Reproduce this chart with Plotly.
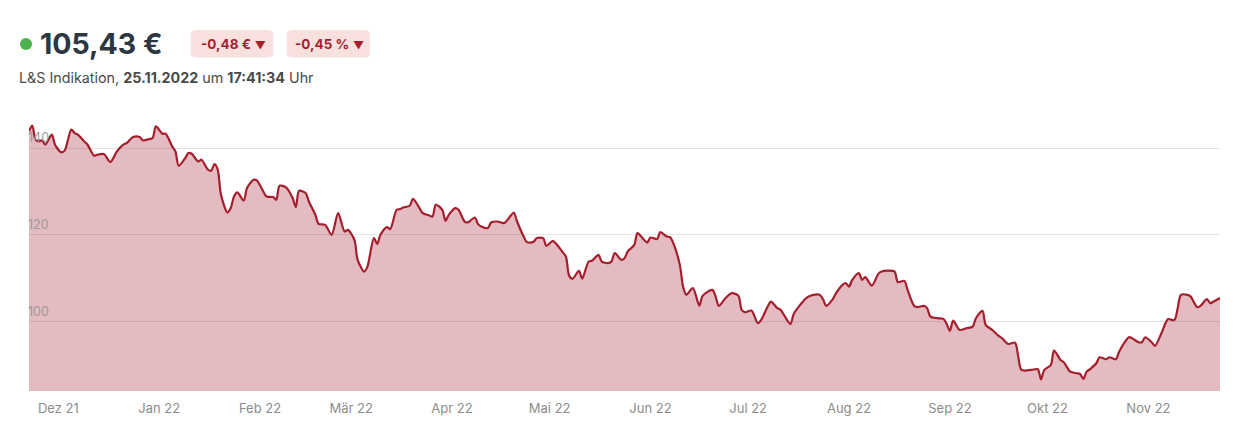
import plotly.graph_objects as go

# ---- data ----
dates = [
    "2021-11-22", "2021-11-23", "2021-11-24", "2021-11-25", "2021-11-26", "2021-11-27", "2021-11-29", "2021-11-30",
    "2021-12-02", "2021-12-03", "2021-12-05", "2021-12-06", "2021-12-07", "2021-12-09", "2021-12-10", "2021-12-12",
    "2021-12-13", "2021-12-15", "2021-12-17", "2021-12-19", "2021-12-21", "2021-12-22", "2021-12-24", "2021-12-26",
    "2021-12-27", "2021-12-29", "2021-12-30", "2021-12-31",
    "2022-01-02", "2022-01-03", "2022-01-05", "2022-01-06", "2022-01-07", "2022-01-09", "2022-01-10", "2022-01-11",
    "2022-01-13", "2022-01-14", "2022-01-16", "2022-01-17", "2022-01-18", "2022-01-19", "2022-01-20", "2022-01-22",
    "2022-01-23", "2022-01-24", "2022-01-25", "2022-01-27", "2022-01-28", "2022-01-30", "2022-01-31",
    "2022-02-02", "2022-02-03", "2022-02-05", "2022-02-06", "2022-02-07", "2022-02-09", "2022-02-11", "2022-02-12",
    "2022-02-13", "2022-02-15", "2022-02-16", "2022-02-18", "2022-02-19", "2022-02-21", "2022-02-23", "2022-02-25",
    "2022-02-27", "2022-02-28",
    "2022-03-02", "2022-03-03", "2022-03-05", "2022-03-06", "2022-03-08", "2022-03-09", "2022-03-10", "2022-03-12",
    "2022-03-13", "2022-03-15", "2022-03-16", "2022-03-17", "2022-03-19", "2022-03-20", "2022-03-22", "2022-03-23",
    "2022-03-25", "2022-03-26", "2022-03-27", "2022-03-29", "2022-03-30", "2022-03-31",
    "2022-04-02", "2022-04-03", "2022-04-05", "2022-04-06", "2022-04-08", "2022-04-09", "2022-04-10", "2022-04-12",
    "2022-04-13", "2022-04-15", "2022-04-17", "2022-04-19", "2022-04-20", "2022-04-21", "2022-04-23", "2022-04-24",
    "2022-04-26", "2022-04-27", "2022-04-29", "2022-04-30",
    "2022-05-02", "2022-05-03", "2022-05-05", "2022-05-06", "2022-05-07", "2022-05-08", "2022-05-10", "2022-05-11",
    "2022-05-13", "2022-05-14", "2022-05-16", "2022-05-17", "2022-05-19", "2022-05-20", "2022-05-21", "2022-05-23",
    "2022-05-24", "2022-05-25", "2022-05-27", "2022-05-28", "2022-05-30", "2022-05-31",
    "2022-06-01", "2022-06-03", "2022-06-04", "2022-06-06", "2022-06-07", "2022-06-08", "2022-06-10", "2022-06-11",
    "2022-06-12", "2022-06-14", "2022-06-16", "2022-06-17", "2022-06-20", "2022-06-21", "2022-06-22", "2022-06-24",
    "2022-06-26", "2022-06-28", "2022-06-29", "2022-06-30",
    "2022-07-02", "2022-07-04", "2022-07-05", "2022-07-07", "2022-07-08", "2022-07-10", "2022-07-11", "2022-07-12",
    "2022-07-14", "2022-07-15", "2022-07-17", "2022-07-19", "2022-07-21", "2022-07-23", "2022-07-24", "2022-07-25",
    "2022-07-27", "2022-07-28", "2022-07-30", "2022-07-31",
    "2022-08-01", "2022-08-02", "2022-08-04", "2022-08-05", "2022-08-06", "2022-08-08", "2022-08-10", "2022-08-11",
    "2022-08-13", "2022-08-15", "2022-08-16", "2022-08-18", "2022-08-19", "2022-08-21", "2022-08-22", "2022-08-24",
    "2022-08-25", "2022-08-26", "2022-08-28", "2022-08-30", "2022-08-31",
    "2022-09-01", "2022-09-02", "2022-09-04", "2022-09-06", "2022-09-08", "2022-09-09", "2022-09-11", "2022-09-12",
    "2022-09-14", "2022-09-16", "2022-09-17", "2022-09-19", "2022-09-21", "2022-09-22", "2022-09-23", "2022-09-26",
    "2022-09-28", "2022-09-29", "2022-09-30",
    "2022-10-02", "2022-10-03", "2022-10-05", "2022-10-06", "2022-10-08", "2022-10-10", "2022-10-11", "2022-10-12",
    "2022-10-13", "2022-10-14", "2022-10-16", "2022-10-17", "2022-10-19", "2022-10-20", "2022-10-22", "2022-10-23",
    "2022-10-25", "2022-10-26", "2022-10-27", "2022-10-29", "2022-10-30", "2022-10-31",
    "2022-11-02", "2022-11-03", "2022-11-05", "2022-11-07", "2022-11-09", "2022-11-10", "2022-11-11", "2022-11-13",
    "2022-11-14", "2022-11-16", "2022-11-17", "2022-11-19", "2022-11-20", "2022-11-21", "2022-11-23",
]

prices = [
    143.83, 145.15, 141.92, 141.52, 141.75, 140.76, 143.07, 140.76,
    138.98, 139.45, 144.23, 143.46, 143.07, 141.52, 140.76, 138.22,
    138.45, 138.61, 136.77, 139.21, 140.76, 141.15, 142.54, 142.54,
    141.75, 142.08, 142.31, 144.99,
    143.30, 143.30, 140.37, 139.21, 135.91, 137.69, 138.85, 138.69,
    136.91, 137.30, 134.99, 134.77, 136.31, 134.99, 129.22, 125.13,
    126.15, 128.82, 129.75, 127.90, 130.76, 132.68, 132.52,
    129.98, 128.82, 128.69, 128.06, 131.30, 130.90, 128.45, 126.38,
    130.14, 129.61, 127.67, 124.60, 122.52, 122.29, 119.98, 124.99,
    120.74, 121.13,
    118.82, 114.21, 111.51, 112.66, 119.22, 117.90, 119.98, 121.76,
    121.30, 125.75, 125.91, 126.28, 126.68, 128.29, 126.15, 124.99,
    124.44, 124.21, 126.91, 125.75, 123.21, 124.60,
    126.15, 125.75, 122.91, 122.91, 123.98, 122.45, 121.90, 121.53,
    122.82, 123.05, 122.68, 124.37, 125.13, 123.05, 119.59, 118.30,
    118.30, 119.22, 119.22, 117.44,
    118.60, 117.90, 115.99, 114.97, 110.51, 109.82, 111.67, 109.89,
    113.82, 113.98, 115.36, 113.82, 113.45, 113.82, 115.76, 114.21,
    114.60, 116.13, 117.67, 120.37, 118.83, 118.20,
    119.36, 118.99, 120.60, 119.59, 119.45, 118.06, 113.05, 108.04,
    106.13, 107.67, 103.66, 105.90, 107.28, 105.73, 103.59, 105.36,
    106.52, 105.90, 102.66, 102.13,
    102.50, 99.59, 100.35, 103.43, 104.58, 103.06, 102.66, 101.51,
    99.43, 101.74, 103.82, 105.50, 106.13, 106.13, 105.13, 103.59,
    105.13, 106.52, 108.44, 108.83,
    108.04, 109.59, 111.14, 109.59, 110.21, 108.27, 110.97, 111.51,
    111.74, 111.51, 109.06, 109.36, 107.28, 103.59, 103.29, 103.59,
    103.06, 101.12, 100.75, 100.59, 99.43,
    97.81, 100.19, 98.05, 98.44, 98.81, 100.75, 102.43, 99.20,
    98.05, 96.66, 96.13, 94.81, 95.11, 91.88, 88.81, 88.81,
    88.97, 86.66, 88.81,
    89.96, 93.27, 91.12, 90.59, 88.42, 88.05, 87.88, 86.73,
    88.42, 88.97, 90.36, 91.74, 91.28, 91.74, 91.28, 93.04,
    95.51, 96.36, 96.13, 95.20, 95.20, 96.36,
    95.20, 94.35, 97.28, 100.52, 100.35, 103.06, 106.13, 106.13,
    105.73, 103.29, 103.59, 105.13, 104.21, 104.58, 105.43,
]

month_ticks = ["2021-12-01", "2022-01-01", "2022-02-01", "2022-03-01", "2022-04-01", "2022-05-01",
               "2022-06-01", "2022-07-01", "2022-08-01", "2022-09-01", "2022-10-01", "2022-11-01"]
month_labels = ["Dez 21", "Jan 22", "Feb 22", "Mär 22", "Apr 22", "Mai 22",
                "Jun 22", "Jul 22", "Aug 22", "Sep 22", "Okt 22", "Nov 22"]
y_ticks = [100, 120, 140]

price_text = "105,43 €"
change_abs = "-0,48 €"
change_pct = "-0,45 %"
sub_date = "25.11.2022"
sub_time = "17:41:34"

# ---- layout geometry (page pixels; the page body has an 8px margin) ----
OFF = 8
W, H = 1253 - OFF, 422 - OFF
ML, MR, MT, MB = 29 - OFF, 33, 122 - OFF, 31
PW = W - ML - MR
PH = H - MT - MB

def px(x):
    return (x - OFF - ML) / PW

def py(y):
    return (H - MB - (y - OFF)) / PH

LINE = "#a41f2e"
FILL = "rgba(164,31,46,0.30)"
FONT = "Inter, Lato, 'Open Sans', sans-serif"

fig = go.Figure()
fig.add_trace(go.Scatter(
    x=dates, y=prices, mode="lines",
    line=dict(color=LINE, width=2.2, shape="spline", smoothing=0.8),
    fill="tozeroy", fillcolor=FILL, hoverinfo="x+y", showlegend=False,
))

def rounded_rect(x0, y0, x1, y1, r):
    X0, X1 = px(x0), px(x1)
    Y0, Y1 = py(y0), py(y1)
    rx = r / PW
    ry = r / PH
    return (f"M {X0+rx},{Y0} L {X1-rx},{Y0} Q {X1},{Y0} {X1},{Y0-ry} "
            f"L {X1},{Y1+ry} Q {X1},{Y1} {X1-rx},{Y1} L {X0+rx},{Y1} "
            f"Q {X0},{Y1} {X0},{Y1+ry} L {X0},{Y0-ry} Q {X0},{Y0} {X0+rx},{Y0} Z")

shapes = [
    dict(type="circle", xref="paper", yref="paper", xsizemode="pixel", ysizemode="pixel",
         xanchor=px(26), yanchor=py(44), x0=-6, x1=6, y0=-6, y1=6,
         fillcolor="#4caf50", line=dict(width=0)),
    dict(type="path", xref="paper", yref="paper", path=rounded_rect(191, 30, 273, 57.5, 5),
         fillcolor="#f8e0de", line=dict(width=0)),
    dict(type="path", xref="paper", yref="paper", path=rounded_rect(287, 30, 370, 57.5, 5),
         fillcolor="#f8e0de", line=dict(width=0)),
]

annotations = [
    dict(xref="paper", yref="paper", x=px(38), y=py(44), xanchor="left", yanchor="middle",
         text=f"<b>{price_text}</b>", showarrow=False,
         font=dict(family=FONT, size=28.5, color="#2c3742")),
    dict(xref="paper", yref="paper", x=px(233), y=py(44), xanchor="center", yanchor="middle",
         text=f"<b>{change_abs}</b> <span style='font-size:11px'>▼</span>", showarrow=False,
         font=dict(family=FONT, size=13.5, color="#a41f2e")),
    dict(xref="paper", yref="paper", x=px(329), y=py(44), xanchor="center", yanchor="middle",
         text=f"<b>{change_pct}</b> <span style='font-size:11px'>▼</span>", showarrow=False,
         font=dict(family=FONT, size=13.5, color="#a41f2e")),
    dict(xref="paper", yref="paper", x=px(17), y=py(77), xanchor="left", yanchor="middle",
         text=f"L&amp;S Indikation, <b>{sub_date}</b> um <b>{sub_time}</b> Uhr", showarrow=False,
         font=dict(family=FONT, size=14.3, color="#4a4a4a")),
]

fig.update_layout(
    width=W, height=H,
    margin=dict(l=ML, r=MR, t=MT, b=MB, pad=0, autoexpand=False),
    paper_bgcolor="white", plot_bgcolor="white",
    shapes=shapes, annotations=annotations,
    font=dict(family=FONT),
    xaxis=dict(
        type="date", range=[dates[0], dates[-1]],
        tickvals=month_ticks, ticktext=month_labels,
        showgrid=False, zeroline=False, showline=False, ticks="",
        tickfont=dict(family=FONT, size=13, color="#8c8c8c"),
        ticklabelstandoff=8, automargin=False,
    ),
    yaxis=dict(
        range=[83.96, 146.0],
        tickvals=y_ticks, ticktext=[str(v) for v in y_ticks],
        showgrid=True, gridcolor="#e4e4e4", gridwidth=1,
        zeroline=False, showline=False, ticks="",
        ticklabelposition="inside", ticklabelshift=-10, ticklabelstandoff=-4,
        tickfont=dict(family=FONT, size=12.5, color="#9a9a9a"),
        automargin=False,
    ),
)

fig.write_html("out.html")
